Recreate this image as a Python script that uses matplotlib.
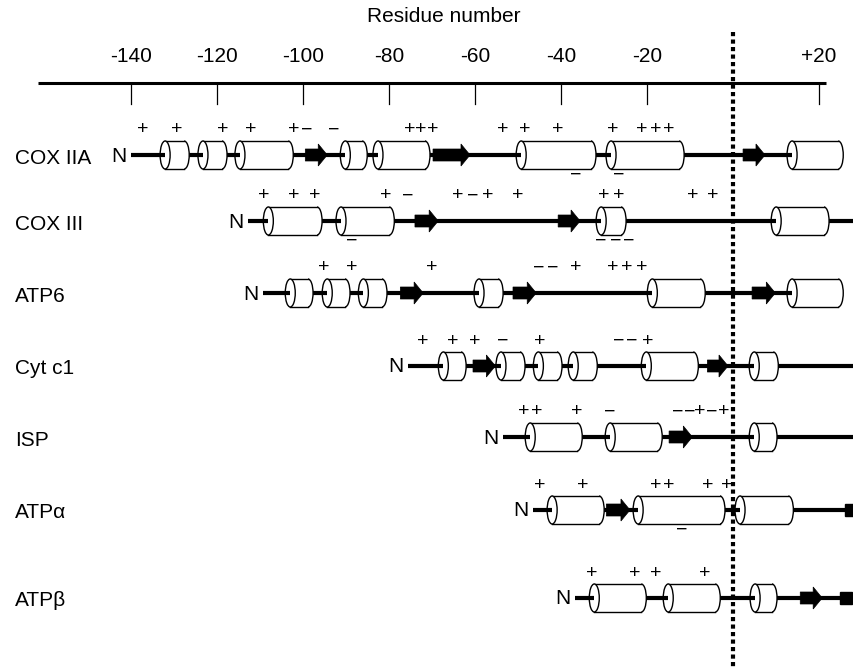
import matplotlib
matplotlib.use("Agg")
import matplotlib.pyplot as plt
from matplotlib.patches import Ellipse, Rectangle, Arc, Polygon

plt.rcParams['font.family'] = ['Liberation Sans', 'DejaVu Sans']

# axis ticks (residue number)
tick_values = [-140, -120, -100, -80, -60, -40, -20, 20]
tick_labels = ['-140', '-120', '-100', '-80', '-60', '-40', '-20', '+20']

# proteins, top to bottom
proteins = ['COX IIA', 'COX III', 'ATP6', 'Cyt c1', 'ISP', 'ATPα', 'ATPβ']

# backbone start / end (residues)
starts = [-140, -112.8, -109.3, -75.6, -53.5, -46.5, -36.7]
ends = [13.7, 28.2, 13.7, 28.2, 28.2, 26.0, 24.9]

# helices (cylinders): (left, right) in residues
helices = [
    [(-132.1, -126.5), (-123.3, -117.7), (-114.7, -102.3), (-90.2, -85.1),
     (-82.6, -70.5), (-49.3, -31.9), (-28.4, -11.4), (13.7, 25.6)],
    [(-108.1, -95.6), (-91.2, -78.8), (-30.7, -24.9), (10.0, 22.3)],
    [(-103.0, -97.7), (-94.4, -89.1), (-86.0, -80.5), (-59.1, -53.5),
     (-18.8, -6.5), (13.7, 25.6)],
    [(-67.4, -62.1), (-54.0, -48.4), (-45.3, -39.8), (-37.2, -31.6),
     (-20.2, -8.1), (4.9, 10.5)],
    [(-47.2, -35.1), (-28.6, -16.5), (4.9, 10.2)],
    [(-42.1, -30.0), (-22.1, -1.9), (1.6, 14.0)],
    [(-32.3, -20.2), (-15.1, -3.0), (5.1, 10.2)],
]

# beta strands (arrows): (tail, tip)
strands = [
    [(-99.5, -94.4), (-69.8, -61.2), (2.3, 7.4)],
    [(-74.0, -68.6), (-40.7, -35.6)],
    [(-77.4, -72.1), (-51.2, -45.8), (4.4, 9.8)],
    [(-60.5, -55.3), (-6.0, -1.2)],
    [(-14.9, -9.5)],
    [(-29.5, -24.0)],
    [(15.6, 20.7)],
]

# C-terminal blocks (left, right)
blocks = [None, None, None, None, None, (26.0, 28.1), (24.9, 27.7)]

# charges above the chain: (residue, sign)
charges_up = [
    [(-137.4, '+'), (-129.3, '+'), (-118.8, '+'), (-112.3, '+'), (-102.1, '+'),
     (-99.1, '−'), (-93.0, '−'), (-75.3, '+'), (-72.6, '+'), (-69.8, '+'),
     (-53.7, '+'), (-48.4, '+'), (-40.9, '+'), (-28.1, '+'), (-21.2, '+'),
     (-18.1, '+'), (-14.9, '+')],
    [(-109.1, '+'), (-102.3, '+'), (-97.2, '+'), (-80.7, '+'), (-75.6, '−'),
     (-64.0, '+'), (-60.5, '−'), (-57.0, '+'), (-50.0, '+'), (-30.2, '+'),
     (-26.5, '+'), (-9.5, '+'), (-4.7, '+')],
    [(-95.3, '+'), (-88.6, '+'), (-70.2, '+'), (-45.3, '−'), (-41.9, '−'),
     (-36.5, '+'), (-28.1, '+'), (-24.7, '+'), (-21.2, '+')],
    [(-72.1, '+'), (-65.1, '+'), (-60.0, '+'), (-53.5, '−'), (-44.9, '+'),
     (-26.7, '−'), (-23.5, '−'), (-19.8, '+')],
    [(-48.8, '+'), (-45.6, '+'), (-36.3, '+'), (-28.8, '−'), (-13.0, '−'),
     (-10.0, '−'), (-7.7, '+'), (-4.9, '−'), (-2.3, '+')],
    [(-44.9, '+'), (-34.9, '+'), (-18.1, '+'), (-14.9, '+'), (-6.0, '+'),
     (-1.6, '+')],
    [(-33.0, '+'), (-23.0, '+'), (-18.1, '+'), (-6.5, '+')],
]

# charges below the chain
charges_down = [
    [(-36.7, '−'), (-26.7, '−')],
    [(-88.8, '−'), (-30.9, '−'), (-27.4, '−'), (-24.4, '−')],
    [], [], [],
    [(-11.9, '−')],
    [],
]

# layout (pixel rows, residue -> pixel scale 4.3 px per residue)
row_y = [155, 221, 293, 366, 437, 510, 598]
PX = 1 / 4.3
CH = 28            # cylinder height (px)
EW = 10 * PX       # ellipse width
LW = 3.0
OLW = 1.0

fig = plt.figure(figsize=(8.54, 6.68), dpi=100)
ax = fig.add_axes([0, 0, 1, 1])
ax.set_xlim(-170.5, 28.1)
ax.set_ylim(668, 0)
ax.axis('off')


def cylinder(x0, x1, y):
    xr = x1 - EW / 2
    ax.add_patch(Ellipse((xr, y), EW, CH, fc='white', ec='none', zorder=2))
    ax.add_patch(Rectangle((x0, y - CH / 2), xr - x0, CH, fc='white', ec='none', zorder=2))
    ax.plot([x0, xr], [y - CH / 2] * 2, color='k', lw=OLW, zorder=3)
    ax.plot([x0, xr], [y + CH / 2] * 2, color='k', lw=OLW, zorder=3)
    ax.add_patch(Arc((xr, y), EW, CH, theta1=-90, theta2=90, color='k', lw=OLW, zorder=3))
    ax.add_patch(Ellipse((x0, y), EW, CH, fc='white', ec='k', lw=OLW, zorder=3))
    ax.plot([x0 - EW / 2, x0], [y, y], color='k', lw=LW, solid_capstyle='butt', zorder=4)


def strand(x0, x1, y):
    hl = 9 * PX
    xh = x1 - hl
    pts = [(x0, y - 6), (xh, y - 6), (xh, y - 11), (x1, y), (xh, y + 11),
           (xh, y + 6), (x0, y + 6)]
    ax.add_patch(Polygon(pts, closed=True, fc='k', ec='k', lw=0.5, zorder=3))


# residue axis
ax.plot([-161.6, 21.6], [83, 83], color='k', lw=2.2, solid_capstyle='butt')
for v, lab in zip(tick_values, tick_labels):
    ax.plot([v, v], [83, 104], color='k', lw=0.9)
    ax.text(v, 56, lab, ha='center', va='center', fontsize=15)
ax.text(-67.2, 16, 'Residue number', ha='center', va='center', fontsize=15)

# cleavage site
ax.plot([0, 0], [32, 668], color='k', lw=3, linestyle=(0, (1.0, 0.8)), zorder=5)

for i, name in enumerate(proteins):
    y = row_y[i]
    ax.text(-167, y + 3, name, ha='left', va='center', fontsize=15)
    ax.text(starts[i] - 12 * PX, y + 1, 'N', ha='center', va='center', fontsize=15)
    ax.plot([starts[i], ends[i]], [y, y], color='k', lw=LW, solid_capstyle='butt', zorder=1)
    for x0, x1 in helices[i]:
        cylinder(x0, x1, y)
    for x0, x1 in strands[i]:
        strand(x0, x1, y)
    if blocks[i] is not None:
        b0, b1 = blocks[i]
        ax.add_patch(Rectangle((b0, y - 6), b1 - b0, 12, fc='k', ec='k', zorder=3))
    for x, s in charges_up[i]:
        ax.text(x, y - 25, s, ha='center', va='center', fontsize=14)
    for x, s in charges_down[i]:
        ax.text(x, y + 20, s, ha='center', va='center', fontsize=14)

fig.savefig('out.png', dpi=100)
